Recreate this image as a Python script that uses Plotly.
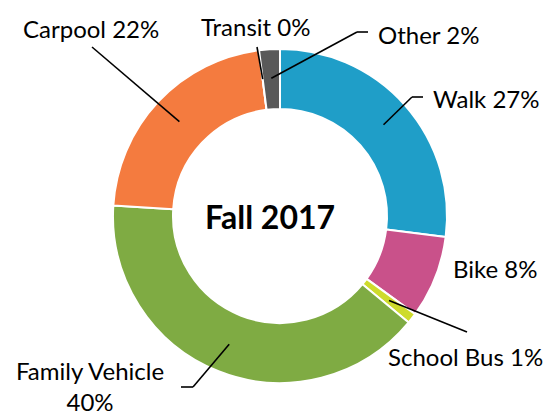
import math
import plotly.graph_objects as go

W, H = 553, 415
OFF = 8  # page body margin offset

categories = ["Walk", "Bike", "School Bus", "Family Vehicle", "Carpool", "Transit", "Other"]
values = [27, 8, 1, 40, 22, 0, 2]
label_text = ["Walk 27%", "Bike 8%", "School Bus 1%", "Family Vehicle<br>40%",
              "Carpool 22%", "Transit 0%", "Other 2%"]
colors = ["#1F9EC8", "#C9518A", "#CEDB2C", "#7FAB43", "#F47B3F", "#404040", "#595959"]
center_title = "Fall 2017"

# layout (pixels, as seen in window)
CX, CY, R_OUT, R_IN = 280, 216, 167, 107
R_LEAD = 138
TITLE_X, TITLE_Y = 270, 216

def px(x, y):
    return (x - OFF) / W, 1 - (y - OFF) / H

label_layout = {
    "Walk": dict(path=[(412, 97), (423, 97)], tx=431, ty=98, anchor="left", at="mid"),
    "Bike": dict(path=None, tx=451, ty=268, anchor="left", at="mid"),
    "School Bus": dict(path=[(467, 332)], tx=465, ty=356, anchor="center", at="mid"),
    "Family Vehicle": dict(path=[(193, 387), (181, 387)], tx=90, ty=386, anchor="center", at="mid"),
    "Carpool": dict(path=[(92, 47)], tx=91, ty=28, anchor="center", at="mid"),
    "Transit": dict(path=[(257, 47)], tx=255, ty=27, anchor="center", at="start"),
    "Other": dict(path=[(357, 32), (368, 32)], tx=376, ty=34, anchor="left", at="mid"),
}

total = sum(values)
fig = go.Figure()
x0, y1 = px(CX - R_OUT, CY - R_OUT)
x1, y0 = px(CX + R_OUT, CY + R_OUT)
fig.add_trace(go.Pie(
    labels=categories, values=values, sort=False, direction="clockwise", rotation=0,
    hole=R_IN / R_OUT, marker=dict(colors=colors, line=dict(color="white", width=2)),
    textinfo="none", hoverinfo="label+percent", showlegend=False,
    domain=dict(x=[x0, x1], y=[y0, y1]),
))

shapes, annotations = [], []
cum = 0
for cat, v, txt in zip(categories, values, label_text):
    lay = label_layout[cat]
    frac = (cum + v / 2) / total if lay["at"] == "mid" else cum / total
    cum += v
    ang = frac * 2 * math.pi
    sx = CX + R_LEAD * math.sin(ang)
    sy = CY - R_LEAD * math.cos(ang)
    if lay["path"]:
        pts = [(sx, sy)] + lay["path"]
        for (ax, ay), (bx, by) in zip(pts[:-1], pts[1:]):
            a = px(ax, ay); b = px(bx, by)
            shapes.append(dict(type="line", xref="paper", yref="paper",
                               x0=a[0], y0=a[1], x1=b[0], y1=b[1],
                               line=dict(color="black", width=1.6)))
    tx, ty = px(lay["tx"], lay["ty"])
    annotations.append(dict(x=tx, y=ty, xref="paper", yref="paper", text=txt,
                            showarrow=False, xanchor=lay["anchor"], yanchor="middle",
                            align="center", font=dict(size=24, color="black")))

cx_, cy_ = px(TITLE_X, TITLE_Y)
annotations.append(dict(x=cx_, y=cy_, xref="paper", yref="paper",
                        text="<b>" + center_title + "</b>", showarrow=False,
                        xanchor="center", yanchor="middle",
                        font=dict(size=32, color="black")))

fig.update_layout(
    width=W, height=H, margin=dict(l=0, r=0, t=0, b=0),
    paper_bgcolor="white", plot_bgcolor="white",
    font=dict(family="Lato, 'Open Sans', sans-serif"),
    shapes=shapes, annotations=annotations,
)
fig.write_html("out.html")
